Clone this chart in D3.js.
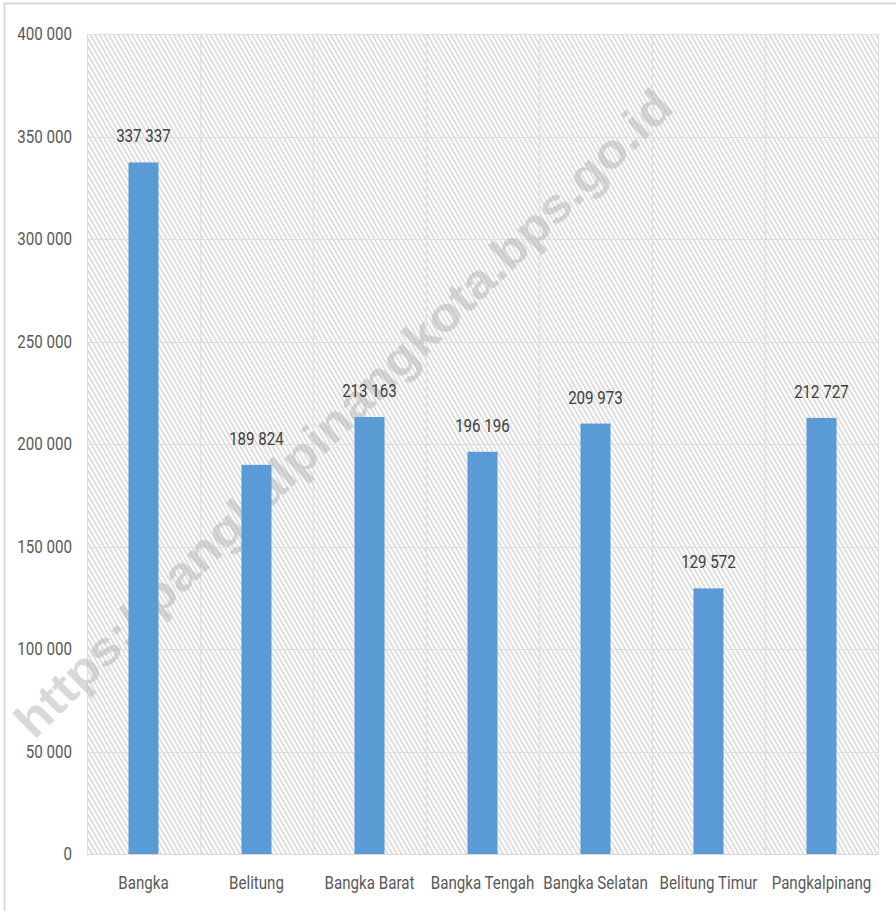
<!DOCTYPE html>
<html>
<head>
<meta charset="utf-8">
<script src="https://cdn.jsdelivr.net/npm/d3@7"></script>
<style>
  html, body { margin: 0; padding: 0; background: #fff; }
  svg { display: block; }
  text { font-family: "Roboto", "Noto Sans", sans-serif; }
</style>
</head>
<body>
<svg id="chart" width="896" height="911"></svg>
<script>
const categories = ["Bangka", "Belitung", "Bangka Barat", "Bangka Tengah", "Bangka Selatan", "Belitung Timur", "Pangkalpinang"];
const values = [337337, 189824, 213163, 196196, 209973, 129572, 212727];
const yTicks = [0, 50000, 100000, 150000, 200000, 250000, 300000, 350000, 400000];
const watermark = "https://pangkalpinangkota.bps.go.id";

const W = 896, H = 911;
const plot = { left: 87, right: 878, top: 34, bottom: 854 };
const svg = d3.select("#chart");

const fmt = v => d3.format(",")(v).replace(/,/g, " ");

// condense text to mimic a narrow (Calibri-like) face
function condense(sel, factor) {
  sel.each(function () {
    const w = this.getComputedTextLength();
    d3.select(this).attr("textLength", w * factor).attr("lengthAdjust", "spacingAndGlyphs");
  });
}

// outer frame (partial, as in reference)
svg.append("line").attr("x1", 4.5).attr("x2", 4.5).attr("y1", 3).attr("y2", H).attr("stroke", "#d9d9d9").attr("stroke-width", 2);
svg.append("line").attr("x1", 4).attr("x2", W).attr("y1", 3.5).attr("y2", 3.5).attr("stroke", "#d9d9d9").attr("stroke-width", 2);

// hatch pattern
const defs = svg.append("defs");
const pat = defs.append("pattern")
  .attr("id", "hatch").attr("patternUnits", "userSpaceOnUse")
  .attr("width", 4).attr("height", 4)
  .attr("patternTransform", "rotate(-30)");
pat.append("rect").attr("width", 4).attr("height", 4).attr("fill", "#ffffff");
pat.append("rect").attr("x", 0).attr("y", 0).attr("width", 1.6).attr("height", 4).attr("fill", "#d6d6d6");

const x = d3.scaleBand().domain(categories).range([plot.left, plot.right]).paddingInner(0).paddingOuter(0);
const y = d3.scaleLinear().domain([0, 400000]).range([plot.bottom, plot.top]);

svg.append("rect")
  .attr("x", plot.left).attr("y", plot.top)
  .attr("width", plot.right - plot.left).attr("height", plot.bottom - plot.top)
  .attr("fill", "url(#hatch)");

// horizontal gridlines
svg.append("g").selectAll("line").data(yTicks).join("line")
  .attr("x1", plot.left).attr("x2", plot.right)
  .attr("y1", d => Math.round(y(d)) + 0.5).attr("y2", d => Math.round(y(d)) + 0.5)
  .attr("stroke", "#dedede").attr("stroke-width", 1);

// vertical gridlines at category boundaries
const bounds = categories.map(c => x(c)).concat([plot.right]);
svg.append("g").selectAll("line").data(bounds).join("line")
  .attr("x1", d => Math.round(d) + 0.5).attr("x2", d => Math.round(d) + 0.5)
  .attr("y1", plot.top).attr("y2", plot.bottom)
  .attr("stroke", "#dedede").attr("stroke-width", 1);

// watermark
svg.append("text")
  .attr("transform", "translate(346,416) rotate(-44.5)")
  .attr("text-anchor", "middle").attr("dominant-baseline", "middle")
  .attr("font-weight", "bold").attr("font-size", 48)
  .attr("textLength", 900).attr("lengthAdjust", "spacingAndGlyphs")
  .attr("fill", "#b4b4b4").attr("fill-opacity", 0.5)
  .style("font-family", "'Liberation Sans', Arial, sans-serif")
  .text(watermark);

// bars
const barW = 30;
svg.append("g").selectAll("rect").data(values).join("rect")
  .attr("x", (d, i) => x(categories[i]) + x.bandwidth() / 2 - barW / 2)
  .attr("y", d => y(d))
  .attr("width", barW)
  .attr("height", d => y(0) - y(d))
  .attr("fill", "#5b9bd5");

// value labels
const vl = svg.append("g").selectAll("text").data(values).join("text")
  .attr("x", (d, i) => x(categories[i]) + x.bandwidth() / 2)
  .attr("y", d => y(d) - 20)
  .attr("text-anchor", "middle")
  .attr("font-size", 18).attr("fill", "#404040")
  .text(d => fmt(d));
condense(vl, 0.84);

// y axis labels
const yAxis = d3.axisLeft(y).tickValues(yTicks).tickFormat(fmt).tickSize(0).tickPadding(15);
const gy = svg.append("g").attr("transform", `translate(${plot.left},0)`).call(yAxis);
gy.select(".domain").remove();
const yt = gy.selectAll("text").attr("font-size", 18).attr("fill", "#595959")
  .style("font-family", "Roboto, 'Noto Sans', sans-serif");
condense(yt, 0.84);

// x axis labels
const xAxis = d3.axisBottom(x).tickSize(0).tickPadding(22);
const gx = svg.append("g").attr("transform", `translate(0,${plot.bottom})`).call(xAxis);
gx.select(".domain").attr("stroke", "#d9d9d9");
const xt = gx.selectAll("text").attr("font-size", 18).attr("fill", "#595959")
  .style("font-family", "Roboto, 'Noto Sans', sans-serif");
condense(xt, 0.84);
</script>
</body>
</html>
